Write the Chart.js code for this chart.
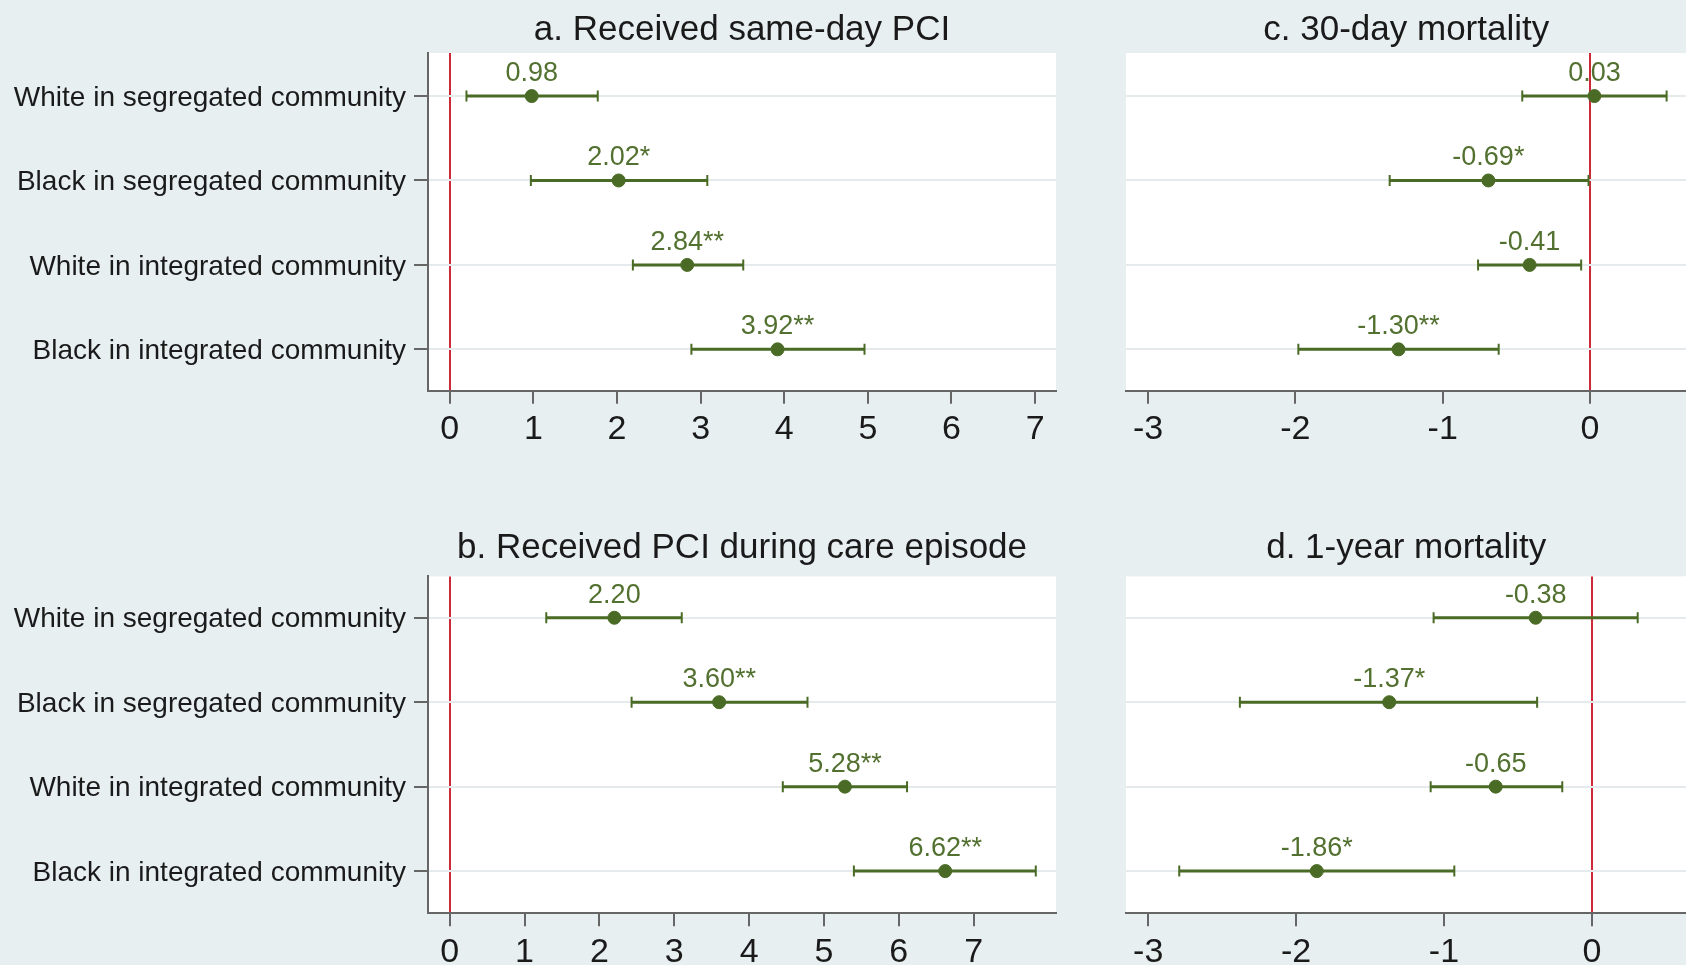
<!DOCTYPE html>
<html>
<head>
<meta charset="utf-8">
<script src="https://cdn.jsdelivr.net/npm/chart.js@4.4.1/dist/chart.umd.min.js"></script>
<style>
html,body{margin:0;padding:0;width:1686px;height:965px;overflow:hidden;background:#e8eff1;position:relative;}
canvas{position:absolute;display:block;}
</style>
</head>
<body>
<canvas id="cA" width="1100" height="480" style="left:0;top:0"></canvas>
<canvas id="cC" width="594" height="480" style="left:1100px;top:0"></canvas>
<canvas id="cB" width="1100" height="465" style="left:0;top:500px"></canvas>
<canvas id="cD" width="594" height="465" style="left:1100px;top:500px"></canvas>
<script>
// ---------- data ----------
const rowLabels = ['White in segregated community', 'Black in segregated community', 'White in integrated community', 'Black in integrated community'];

const sameDayTitle = 'a. Received same-day PCI';
const sameDayEst   = [0.98, 2.02, 2.84, 3.92];
const sameDayLo    = [0.20, 0.97, 2.19, 2.89];
const sameDayHi    = [1.77, 3.08, 3.51, 4.96];
const sameDayStars = ['', '*', '**', '**'];

const episodeTitle = 'b. Received PCI during care episode';
const episodeEst   = [2.20, 3.60, 5.28, 6.62];
const episodeLo    = [1.29, 2.43, 4.45, 5.40];
const episodeHi    = [3.10, 4.78, 6.11, 7.83];
const episodeStars = ['', '**', '**', '**'];

const mort30Title = 'c. 30-day mortality';
const mort30Est   = [0.03, -0.69, -0.41, -1.30];
const mort30Lo    = [-0.46, -1.36, -0.76, -1.98];
const mort30Hi    = [0.52, -0.01, -0.06, -0.62];
const mort30Stars = ['', '*', '', '**'];

const mort1yTitle = 'd. 1-year mortality';
const mort1yEst   = [-0.38, -1.37, -0.65, -1.86];
const mort1yLo    = [-1.07, -2.38, -1.09, -2.79];
const mort1yHi    = [0.31, -0.37, -0.20, -0.93];
const mort1yStars = ['', '*', '', '*'];

const pciTicks  = [0, 1, 2, 3, 4, 5, 6, 7];
const mortTicks = [-3, -2, -1, 0];
const rowTicks  = [0, 1, 2, 3];

// ---------- styling ----------
const FONT = '"Liberation Sans", Arial, Helvetica, sans-serif';
const GREEN = '#4a6b25';
const LABEL_GREEN = '#52702f';
const RED = '#cc2a38';
const AXIS = '#666666';
const TEXT = '#1a1a1a';

const plotBg = {
  id: 'plotBg',
  beforeDraw(chart) {
    const a = chart.chartArea, ctx = chart.ctx;
    ctx.save();
    ctx.fillStyle = '#ffffff';
    ctx.fillRect(a.left, a.top, a.width, a.height);
    ctx.restore();
  }
};

const valueLabels = {
  id: 'valueLabels',
  afterDatasetsDraw(chart, args, opts) {
    const meta = chart.getDatasetMeta(2);
    const ctx = chart.ctx;
    ctx.save();
    ctx.font = '27px ' + FONT;
    ctx.fillStyle = LABEL_GREEN;
    ctx.textAlign = 'center';
    ctx.textBaseline = 'alphabetic';
    meta.data.forEach((el, i) => {
      ctx.fillText(opts.texts[i], el.x, el.y - 15);
    });
    ctx.restore();
  }
};

function build(id, title, est, lo, hi, stars, xr, xticks, yr, showY, lay) {
  const ci = [];
  est.forEach((e, i) => {
    ci.push({x: lo[i], y: i}, {x: hi[i], y: i}, {x: hi[i], y: null});
  });
  const caps = lo.map((v, i) => ({x: v, y: i})).concat(hi.map((v, i) => ({x: v, y: i})));
  const pts = est.map((v, i) => ({x: v, y: i}));
  const texts = est.map((v, i) => v.toFixed(2) + stars[i]);

  return new Chart(document.getElementById(id), {
    type: 'scatter',
    data: {
      datasets: [
        {type: 'line', data: ci, borderColor: GREEN, borderWidth: 3, pointRadius: 0, spanGaps: false, fill: false},
        {type: 'scatter', data: caps, pointStyle: 'line', rotation: 90, radius: 5.5, borderColor: GREEN, borderWidth: 2},
        {type: 'scatter', data: pts, pointStyle: 'circle', radius: 6.5, backgroundColor: GREEN, borderColor: GREEN, borderWidth: 1}
      ]
    },
    options: {
      responsive: false,
      animation: false,
      events: [],
      layout: {padding: {left: lay.padL, right: lay.padR, top: 0, bottom: 0}},
      plugins: {
        legend: {display: false},
        tooltip: {enabled: false},
        title: {
          display: true, text: title, fullSize: false, color: TEXT,
          font: {size: 35, family: FONT, weight: 'normal'},
          padding: {top: lay.tTop, bottom: lay.tBot}
        },
        valueLabels: {texts: texts}
      },
      scales: {
        x: {
          type: 'linear', min: xr[0], max: xr[1],
          afterBuildTicks: s => { s.ticks = xticks.map(v => ({value: v})); },
          afterFit: s => { s.height = lay.xH; },
          ticks: {font: {size: 34, family: FONT}, color: TEXT, padding: 6, maxRotation: 0, autoSkip: false},
          grid: {
            color: c => (c.tick && c.tick.value === 0) ? RED : 'rgba(0,0,0,0)',
            lineWidth: c => (c.tick && c.tick.value === 0) ? 2 : 0,
            drawTicks: true, tickLength: 13, tickColor: AXIS, tickWidth: 2
          },
          border: {display: true, color: AXIS, width: 2}
        },
        y: {
          type: 'linear', min: yr[0], max: yr[1], reverse: true,
          afterBuildTicks: s => { s.ticks = rowTicks.map(v => ({value: v})); },
          afterFit: s => { s.width = lay.yW; },
          ticks: {display: showY, callback: v => rowLabels[v], font: {size: 28, family: FONT}, color: TEXT, padding: 8, labelOffset: 2},
          grid: {color: '#e5ebed', lineWidth: 2, drawTicks: showY, tickLength: 14, tickColor: AXIS, tickWidth: 2},
          border: {display: showY, color: AXIS, width: 2}
        }
      }
    },
    plugins: [plotBg, valueLabels]
  });
}

build('cA', sameDayTitle, sameDayEst, sameDayLo, sameDayHi, sameDayStars,
      [-0.26, 7.25], pciTicks, [-0.51, 3.49], true,
      {padL: 0, padR: 44, yW: 428, xH: 89.3, tTop: 9, tBot: 2});
build('cB', episodeTitle, episodeEst, episodeLo, episodeHi, episodeStars,
      [-0.29, 8.1], pciTicks, [-0.49, 3.50], true,
      {padL: 0, padR: 44, yW: 428, xH: 51.7, tTop: 27, tBot: 7.4});
build('cC', mort30Title, mort30Est, mort30Lo, mort30Hi, mort30Stars,
      [-3.15, 0.655], mortTicks, [-0.51, 3.49], false,
      {padL: 26, padR: 0, yW: 0, xH: 89.3, tTop: 9, tBot: 2});
build('cD', mort1yTitle, mort1yEst, mort1yLo, mort1yHi, mort1yStars,
      [-3.15, 0.64], mortTicks, [-0.49, 3.50], false,
      {padL: 26, padR: 0, yW: 0, xH: 51.7, tTop: 27, tBot: 7.4});
</script>
</body>
</html>
